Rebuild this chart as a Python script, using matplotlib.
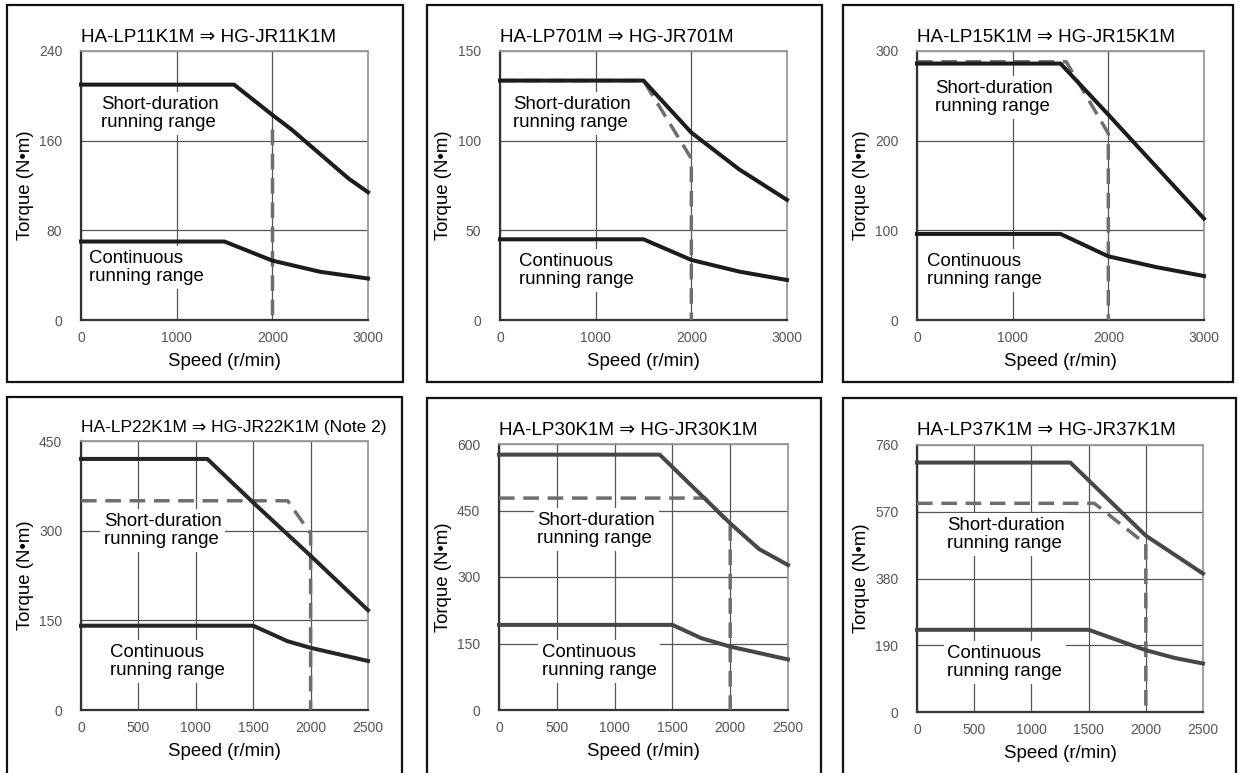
import matplotlib
matplotlib.use("Agg")
import matplotlib.pyplot as plt
from matplotlib.patches import Rectangle

plt.rcParams['font.family'] = ['Liberation Sans', 'DejaVu Sans']

W, H = 1238, 773

# ---------------- data ----------------
titles = ["HA-LP11K1M \u21d2 HG-JR11K1M",
          "HA-LP701M \u21d2 HG-JR701M",
          "HA-LP15K1M \u21d2 HG-JR15K1M",
          "HA-LP22K1M \u21d2 HG-JR22K1M (Note 2)",
          "HA-LP30K1M \u21d2 HG-JR30K1M",
          "HA-LP37K1M \u21d2 HG-JR37K1M"]

x_max = [3000, 3000, 3000, 2500, 2500, 2500]
x_step = [1000, 1000, 1000, 500, 500, 500]
y_max = [240, 150, 300, 450, 600, 760]
y_step = [80, 50, 100, 150, 150, 190]

# short-duration range, HG-JR (solid)
p1_short_x = [0, 1600, 2000, 2200, 2500, 2800, 3000]
p1_short_y = [210, 210, 183, 170, 148, 126, 114]
p2_short_x = [0, 1500, 2000, 2500, 3000]
p2_short_y = [133.5, 133.5, 104.5, 84, 67]
p3_short_x = [0, 1500, 2000, 2500, 3000]
p3_short_y = [286, 286, 229, 171, 113]
p4_short_x = [0, 1100, 1500, 2000, 2500]
p4_short_y = [420, 420, 347, 258, 167]
p5_short_x = [0, 1390, 2000, 2250, 2500]
p5_short_y = [576, 576, 421, 363, 327]
p6_short_x = [0, 1340, 2000, 2500]
p6_short_y = [710, 710, 502, 394]

# continuous range (solid)
p1_cont_x = [0, 1500, 2000, 2500, 3000]
p1_cont_y = [70, 70, 53, 43, 37]
p2_cont_x = [0, 1500, 2000, 2500, 3000]
p2_cont_y = [45, 45, 33.5, 27, 22.3]
p3_cont_x = [0, 1500, 2000, 2500, 3000]
p3_cont_y = [96, 96, 71, 59, 49]
p4_cont_x = [0, 1500, 1800, 2000, 2500]
p4_cont_y = [141, 141, 115, 104, 82]
p5_cont_x = [0, 1500, 1750, 2000, 2500]
p5_cont_y = [192, 192, 162, 143, 114]
p6_cont_x = [0, 1500, 2000, 2250, 2500]
p6_cont_y = [234, 234, 176, 154, 138]

# HA-LP short-duration range (dashed, visible part)
p1_dash_x = [2000, 2000]
p1_dash_y = [170, 0]
p2_dash_x = [0, 1500, 2000, 2000]
p2_dash_y = [133.5, 133.5, 90, 0]
p3_dash_x = [0, 1560, 2000, 2000]
p3_dash_y = [288, 288, 208, 0]
p4_dash_x = [0, 1800, 2000, 2000]
p4_dash_y = [350, 350, 295, 0]
p5_dash_x = [0, 1780, 2000, 2000]
p5_dash_y = [478, 478, 418, 0]
p6_dash_x = [0, 1550, 2000, 2000]
p6_dash_y = [594, 594, 478, 0]

short_label = "Short-duration\nrunning range"
cont_label = "Continuous\nrunning range"
short_label_pos = [(209, 184), (133, 115), (191, 248), (200, 300), (331, 407), (260, 506)]
cont_label_pos = [(84, 47), (195, 27.6), (101, 55), (253, 81), (369, 109), (265, 141)]

# ---------------- layout (pixels) ----------------
axes_px = [(81, 51, 368, 320), (500, 51, 787, 320), (917, 51, 1204, 320),
           (81, 441, 368, 710), (499, 444, 788, 710), (917, 445, 1203, 712)]
boxes_px = [(7, 5, 403, 382), (427, 5, 822, 382), (843, 5, 1233, 382),
            (7, 397, 402, 790), (427, 398, 821, 790), (843, 398, 1236, 790)]
curve_colors = ['#1c1c1c', '#1c1c1c', '#1c1c1c', '#262626', '#474747', '#474747']
title_sizes = [13.6, 13.6, 13.6, 12.5, 13.6, 13.6]

short_x = [p1_short_x, p2_short_x, p3_short_x, p4_short_x, p5_short_x, p6_short_x]
short_y = [p1_short_y, p2_short_y, p3_short_y, p4_short_y, p5_short_y, p6_short_y]
cont_x = [p1_cont_x, p2_cont_x, p3_cont_x, p4_cont_x, p5_cont_x, p6_cont_x]
cont_y = [p1_cont_y, p2_cont_y, p3_cont_y, p4_cont_y, p5_cont_y, p6_cont_y]
dash_x = [p1_dash_x, p2_dash_x, p3_dash_x, p4_dash_x, p5_dash_x, p6_dash_x]
dash_y = [p1_dash_y, p2_dash_y, p3_dash_y, p4_dash_y, p5_dash_y, p6_dash_y]

fig = plt.figure(figsize=(W / 100, H / 100), dpi=100)
fig.patch.set_facecolor('white')

for (x0, y0, x1, y1) in boxes_px:
    fig.add_artist(Rectangle((x0 / W, 1 - y1 / H), (x1 - x0) / W, (y1 - y0) / H,
                             transform=fig.transFigure, fill=False,
                             edgecolor='#111111', linewidth=1.6, clip_on=False))

FS = 13.4
for i in range(6):
    x0, y0, x1, y1 = axes_px[i]
    ax = fig.add_axes([x0 / W, 1 - y1 / H, (x1 - x0) / W, (y1 - y0) / H])
    ax.set_xlim(0, x_max[i])
    ax.set_ylim(0, y_max[i])
    ax.set_xticks(list(range(0, x_max[i] + 1, x_step[i])))
    ax.set_yticks(list(range(0, y_max[i] + 1, y_step[i])))
    ax.tick_params(length=0, labelsize=10, labelcolor='#555555')
    ax.tick_params(axis='y', pad=13.5)
    ax.tick_params(axis='x', pad=8)
    ax.grid(True, color='#555555', linewidth=0.9)
    ax.set_axisbelow(True)
    for s in ['left', 'bottom']:
        ax.spines[s].set_color('#333333')
        ax.spines[s].set_linewidth(1.6)
    for s in ['top', 'right']:
        ax.spines[s].set_color('#9a9a9a')
        ax.spines[s].set_linewidth(1.3)

    ax.plot(dash_x[i], dash_y[i], color='#6e6e6e', linewidth=2.5,
            linestyle=(0, (4.5, 2.5)), zorder=3, clip_on=False)
    ax.plot(short_x[i], short_y[i], color=curve_colors[i], linewidth=2.9,
            zorder=4, solid_joinstyle='round', clip_on=False)
    ax.plot(cont_x[i], cont_y[i], color=curve_colors[i], linewidth=2.9,
            zorder=4, solid_joinstyle='round', clip_on=False)

    box = dict(boxstyle='square,pad=0.2', facecolor='white', edgecolor='none')
    sx, sy = short_label_pos[i]
    ax.text(sx, sy, short_label, fontsize=FS, ha='left', va='center',
            linespacing=1.1, bbox=box, zorder=2.5)
    cx, cy = cont_label_pos[i]
    ax.text(cx, cy, cont_label, fontsize=FS, ha='left', va='center',
            linespacing=1.1, bbox=box, zorder=2.5)

    ax.text(0, 1 + 14 / (y1 - y0), titles[i], transform=ax.transAxes,
            fontsize=title_sizes[i], ha='left', va='center')

    ax.set_xlabel("Speed (r/min)", fontsize=FS)
    ax.xaxis.label.set_va('center')
    ax.xaxis.set_label_coords(0.5, -42 / (y1 - y0))
    ax.set_ylabel("Torque (N\u2022m)", fontsize=FS)
    ax.yaxis.label.set_va('center')
    ax.yaxis.set_label_coords(-56 / (x1 - x0), 0.5)

fig.savefig("out.png", dpi=100, facecolor='white')
